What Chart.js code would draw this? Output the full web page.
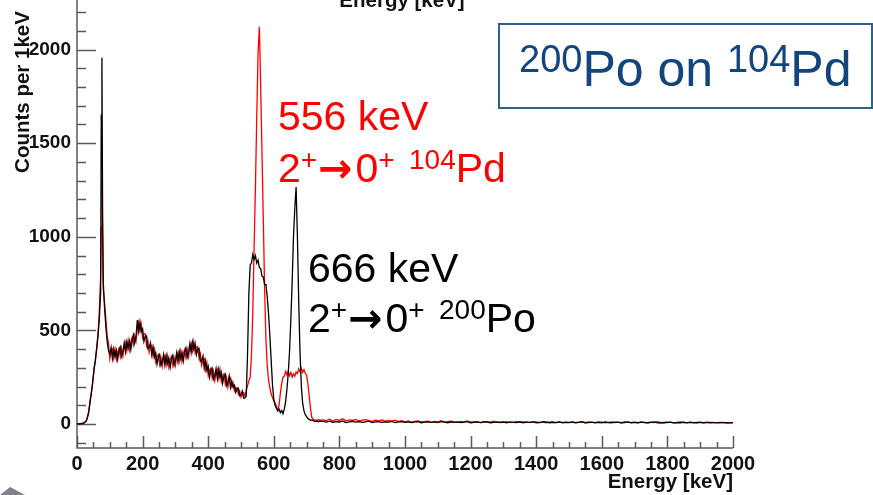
<!DOCTYPE html>
<html>
<head>
<meta charset="utf-8">
<title>200Po on 104Pd - gamma spectrum</title>
<script src="https://cdn.jsdelivr.net/npm/chart.js@4.4.1/dist/chart.umd.min.js"></script>
<style>
  html, body { margin: 0; padding: 0; background: #fff; }
  #wrap { width: 873px; height: 495px; }
</style>
</head>
<body>
<div id="wrap"><canvas id="spectrum" width="873" height="495"></canvas></div>
<script>
// Bin centres in keV, finer around the low-energy spike
const energyKeV = [
    0, 4, 8, 12, 16, 20, 24, 28, 32, 36,
    40, 44, 48, 52, 56, 60, 64, 68, 72, 74,
    76, 78, 80, 84, 88, 92, 96, 100, 104, 108,
    112, 116, 120, 124, 128, 132, 136, 140, 144, 148,
    152, 156, 160, 164, 168, 172, 176, 180, 184, 188,
    192, 196, 200, 204, 208, 212, 216, 220, 224, 228,
    232, 236, 240, 244, 248, 252, 256, 260, 264, 268,
    272, 276, 280, 284, 288, 292, 296, 300, 304, 308,
    312, 316, 320, 324, 328, 332, 336, 340, 344, 348,
    352, 356, 360, 364, 368, 372, 376, 380, 384, 388,
    392, 396, 400, 404, 408, 412, 416, 420, 424, 428,
    432, 436, 440, 444, 448, 452, 456, 460, 464, 468,
    472, 476, 480, 484, 488, 492, 496, 500, 504, 508,
    512, 516, 520, 524, 528, 532, 536, 540, 544, 548,
    552, 556, 560, 564, 568, 572, 576, 580, 584, 588,
    592, 596, 600, 604, 608, 612, 616, 620, 624, 628,
    632, 636, 640, 644, 648, 652, 656, 660, 664, 668,
    672, 676, 680, 684, 688, 692, 696, 700, 704, 708,
    712, 716, 720, 724, 728, 732, 736, 740
];

// Doppler correction for the beam (200Po) - black
const countsPo = [
    0, 2, 0, 3, 2, 5, 10, 14, 35, 70,
    120, 165, 230, 290, 345, 400, 470, 560, 700, 1650,
    1957, 1150, 760, 620, 520, 440, 392, 374, 409, 350,
    400, 360, 393, 344, 390, 411, 362, 389, 434, 385,
    440, 406, 443, 398, 448, 476, 432, 469, 555, 495,
    545, 493, 508, 441, 468, 471, 402, 409, 434, 370,
    410, 358, 380, 321, 358, 371, 314, 334, 372, 316,
    365, 323, 353, 302, 346, 366, 314, 339, 382, 332,
    386, 348, 383, 336, 383, 406, 357, 384, 430, 382,
    438, 400, 430, 371, 400, 404, 334, 339, 364, 298,
    338, 286, 308, 249, 285, 298, 240, 258, 296, 242,
    293, 250, 276, 218, 254, 266, 206, 222, 256, 196,
    228, 196, 207, 169, 187, 191, 151, 158, 176, 138,
    140, 150, 380, 700, 850, 860, 905, 880, 900, 860,
    875, 835, 830, 790, 785, 745, 745, 680, 590, 470,
    340, 210, 130, 100, 85, 70, 80, 60, 72, 55,
    80, 120, 185, 270, 390, 560, 760, 1000, 1150, 1266,
    1000, 650, 380, 200, 110, 70, 50, 40, 30, 25,
    20, 22, 18, 15, 14, 16, 12, 15
];

// Doppler correction for the target (104Pd) - red
const countsPd = [
    0, 0, 2, 0, 4, 3, 8, 18, 40, 62,
    128, 175, 220, 300, 330, 410, 480, 600, 790, 1050,
    1303, 1000, 720, 650, 560, 470, 434, 348, 385, 400,
    352, 400, 345, 384, 404, 359, 404, 363, 410, 435,
    392, 446, 395, 438, 462, 424, 474, 443, 510, 545,
    497, 533, 460, 481, 482, 419, 444, 383, 410, 420,
    362, 398, 332, 361, 372, 319, 356, 308, 348, 366,
    317, 363, 305, 342, 360, 314, 356, 313, 358, 382,
    338, 388, 335, 376, 397, 354, 399, 358, 406, 432,
    390, 440, 382, 411, 414, 352, 376, 313, 340, 348,
    290, 326, 260, 289, 299, 246, 282, 232, 272, 292,
    245, 290, 228, 258, 268, 214, 248, 196, 232, 246,
    199, 220, 178, 193, 195, 159, 176, 143, 162, 168,
    150, 180, 205, 230, 250, 370, 600, 950, 1268, 1640,
    1980, 2122, 1800, 1447, 1090, 720, 450, 310, 235, 195,
    160, 140, 125, 112, 95, 75, 100, 165, 215, 250,
    255, 280, 262, 285, 258, 275, 250, 268, 255, 278,
    270, 295, 278, 298, 275, 290, 270, 262, 215, 150,
    80, 35, 25, 20, 22, 18, 24, 20
];

// Flat high-energy part, 10 keV bins
const tailEnergyKeV = [
    750, 760, 770, 780, 790, 800, 810, 820, 830, 840,
    850, 860, 870, 880, 890, 900, 910, 920, 930, 940,
    950, 960, 970, 980, 990, 1000, 1010, 1020, 1030, 1040,
    1050, 1060, 1070, 1080, 1090, 1100, 1110, 1120, 1130, 1140,
    1150, 1160, 1170, 1180, 1190, 1200, 1210, 1220, 1230, 1240,
    1250, 1260, 1270, 1280, 1290, 1300, 1310, 1320, 1330, 1340,
    1350, 1360, 1370, 1380, 1390, 1400, 1410, 1420, 1430, 1440,
    1450, 1460, 1470, 1480, 1490, 1500, 1510, 1520, 1530, 1540,
    1550, 1560, 1570, 1580, 1590, 1600, 1610, 1620, 1630, 1640,
    1650, 1660, 1670, 1680, 1690, 1700, 1710, 1720, 1730, 1740,
    1750, 1760, 1770, 1780, 1790, 1800, 1810, 1820, 1830, 1840,
    1850, 1860, 1870, 1880, 1890, 1900, 1910, 1920, 1930, 1940,
    1950, 1960, 1970, 1980, 1990, 2000
];

const tailCountsPo = [
    14, 10, 15, 9, 13, 11, 16, 8, 12, 14,
    10, 13, 9, 12, 15, 8, 11, 13, 9, 12,
    10, 14, 8, 11, 13, 9, 12, 8, 11, 13,
    7, 10, 12, 9, 11, 8, 13, 10, 7, 12,
    9, 11, 8, 10, 13, 7, 9, 12, 8, 10,
    11, 7, 9, 12, 8, 10, 6, 11, 9, 8,
    12, 7, 10, 9, 11, 6, 8, 10, 12, 7,
    9, 8, 11, 6, 9, 8, 10, 7, 9, 11,
    6, 8, 10, 7, 9, 6, 11, 8, 7, 10,
    9, 6, 8, 11, 7, 9, 6, 10, 8, 7,
    9, 11, 6, 8, 7, 10, 9, 6, 8, 7,
    10, 6, 9, 8, 7, 10, 6, 8, 9, 7,
    6, 9, 8, 7, 6, 8
];

const tailCountsPd = [
    22, 18, 26, 15, 24, 20, 28, 17, 22, 19,
    25, 16, 21, 24, 18, 14, 20, 17, 22, 15,
    19, 16, 21, 13, 18, 12, 16, 10, 14, 17,
    11, 13, 15, 9, 14, 12, 18, 10, 13, 16,
    11, 9, 14, 12, 17, 10, 13, 11, 8, 14,
    12, 10, 15, 9, 12, 11, 13, 8, 10, 14,
    9, 12, 10, 8, 13, 11, 9, 12, 7, 10,
    13, 8, 11, 9, 10, 9, 12, 8, 10, 13,
    7, 11, 9, 8, 12, 10, 7, 9, 11, 8,
    10, 7, 12, 9, 8, 10, 6, 11, 9, 7,
    10, 8, 12, 7, 9, 8, 10, 6, 9, 11,
    7, 8, 10, 6, 9, 8, 7, 10, 6, 9,
    8, 7, 9, 6, 8, 7
];

const xMajorTicks = [0, 200, 400, 600, 800, 1000, 1200, 1400, 1600, 1800, 2000];
const yMajorTicks = [0, 500, 1000, 1500, 2000];
const X_MINOR_STEP = 50;
const Y_MINOR_STEP = 100;

const SANS = '"Liberation Sans", Arial, Helvetica, sans-serif';

function toPoints(xs, ys) {
    return xs.map((x, i) => ({ x: x, y: ys[i] }));
}

const allEnergy = energyKeV.concat(tailEnergyKeV);
const allPo = countsPo.concat(tailCountsPo);
const allPd = countsPd.concat(tailCountsPd);

// draw a line of text made of runs with different sizes / raised superscripts
function drawRuns(ctx, x, baseline, runs, color) {
    ctx.fillStyle = color;
    ctx.textAlign = 'left';
    ctx.textBaseline = 'alphabetic';
    let cx = x;
    runs.forEach(r => {
        ctx.font = r.font;
        ctx.fillText(r.t, cx, baseline - (r.rise || 0));
        cx += ctx.measureText(r.t).width + (r.gap || 0);
    });
}

function transitionRuns(nucleusMass, nucleus) {
    const big = '41px ' + SANS;
    const small = '28px ' + SANS;
    return [
        { t: '2', font: big },
        { t: '+', font: small, rise: 13, gap: 1 },
        { t: '\u2192', font: 'bold 41px "DejaVu Sans", sans-serif', gap: 3 },
        { t: '0', font: big },
        { t: '+', font: small, rise: 13 },
        { t: ' ', font: big, gap: 3 },
        { t: nucleusMass, font: small, rise: 13 },
        { t: nucleus, font: big }
    ];
}

// ROOT style frame: grey axis lines with ticks pointing into the pad
const rootFrame = {
    id: 'rootFrame',
    beforeDatasetsDraw(chart) {
        const { ctx, chartArea: a, scales: { x, y } } = chart;
        ctx.save();
        ctx.strokeStyle = '#5a5a5a';
        ctx.lineWidth = 1.5;
        ctx.beginPath();
        ctx.moveTo(a.left, 0);
        ctx.lineTo(a.left, a.bottom);
        ctx.lineTo(a.right, a.bottom);
        for (let v = -100; v <= 2200; v += Y_MINOR_STEP) {
            const py = Math.round(y.getPixelForValue(v)) + 0.5;
            const len = yMajorTicks.includes(v) ? 19 : 9;
            ctx.moveTo(a.left, py);
            ctx.lineTo(a.left + len, py);
        }
        for (let v = 0; v <= 2000; v += X_MINOR_STEP) {
            const px = Math.round(x.getPixelForValue(v)) + 0.5;
            const len = xMajorTicks.includes(v) ? 12 : 6;
            ctx.moveTo(px, a.bottom);
            ctx.lineTo(px, a.bottom - len);
        }
        ctx.stroke();
        ctx.restore();
    },
    afterDraw(chart) {
        const { ctx, chartArea: a } = chart;
        ctx.save();

        // axis titles
        ctx.fillStyle = '#111';
        ctx.font = 'bold 20.5px ' + SANS;
        ctx.textAlign = 'right';
        ctx.textBaseline = 'alphabetic';
        ctx.fillText('Energy [keV]', a.right, 488);
        // title of the panel above, cut by the slide
        ctx.textAlign = 'center';
        ctx.fillText('Energy [keV]', 402, 7);

        ctx.save();
        ctx.translate(23, 92);
        ctx.rotate(-Math.PI / 2);
        ctx.textAlign = 'center';
        ctx.textBaseline = 'middle';
        ctx.fillText('Counts per 1keV', 0, 0);
        ctx.restore();

        // peak labels
        ctx.font = '41px ' + SANS;
        ctx.textAlign = 'left';
        ctx.fillStyle = '#ff0000';
        ctx.fillText('556 keV', 278, 130);
        drawRuns(ctx, 278, 182, transitionRuns('104', 'Pd'), '#ff0000');

        ctx.font = '41px ' + SANS;
        ctx.fillStyle = '#000';
        ctx.fillText('666 keV', 308, 282);
        drawRuns(ctx, 308, 332, transitionRuns('200', 'Po'), '#000');

        // reaction box
        ctx.strokeStyle = '#2f5f93';
        ctx.lineWidth = 2;
        ctx.strokeRect(499, 24, 373, 84);
        drawRuns(ctx, 519, 86, [
            { t: '200', font: '38px ' + SANS, rise: 14 },
            { t: 'Po on ', font: '50px ' + SANS },
            { t: '104', font: '38px ' + SANS, rise: 14 },
            { t: 'Pd', font: '50px ' + SANS }
        ], '#12447e');

        // slide corner marker
        ctx.fillStyle = '#80808f';
        ctx.beginPath();
        ctx.moveTo(0, 495);
        ctx.lineTo(10, 487);
        ctx.lineTo(25, 495);
        ctx.closePath();
        ctx.fill();

        ctx.restore();
    }
};

new Chart(document.getElementById('spectrum'), {
    type: 'line',
    data: {
        datasets: [{
            label: '200Po',
            data: toPoints(allEnergy, allPo),
            borderColor: '#000000',
            borderWidth: 1.3,
            pointRadius: 0,
            tension: 0,
            order: 0
        }, {
            label: '104Pd',
            data: toPoints(allEnergy, allPd),
            borderColor: '#ff0000',
            borderWidth: 1.3,
            pointRadius: 0,
            tension: 0,
            order: 1
        }]
    },
    options: {
        responsive: false,
        animation: false,
        devicePixelRatio: 1,
        layout: { padding: { top: 0, right: 140, bottom: 0, left: 0 } },
        plugins: {
            legend: { display: false },
            tooltip: { enabled: false }
        },
        scales: {
            x: {
                type: 'linear',
                min: 0,
                max: 2000,
                grid: { display: false, drawTicks: false },
                border: { display: false },
                afterBuildTicks: s => { s.ticks = xMajorTicks.map(v => ({ value: v })); },
                afterFit: s => {
                    s.height = 47;
                    s.paddingLeft = 0;
                    s.paddingRight = 0;
                },
                ticks: {
                    color: '#111',
                    font: { family: SANS, size: 20, weight: 'bold' },
                    padding: 4,
                    maxRotation: 0,
                    autoSkip: false,
                    callback: v => String(v)
                }
            },
            y: {
                type: 'linear',
                min: -128,
                max: 2265,
                grid: { display: false, drawTicks: false },
                border: { display: false },
                afterBuildTicks: s => { s.ticks = yMajorTicks.map(v => ({ value: v })); },
                afterFit: s => {
                    s.width = 77;
                    s.paddingTop = 0;
                    s.paddingBottom = 0;
                },
                ticks: {
                    color: '#111',
                    font: { family: SANS, size: 19, weight: 'bold' },
                    padding: 6,
                    callback: v => String(v)
                }
            }
        }
    },
    plugins: [rootFrame]
});
</script>
</body>
</html>
